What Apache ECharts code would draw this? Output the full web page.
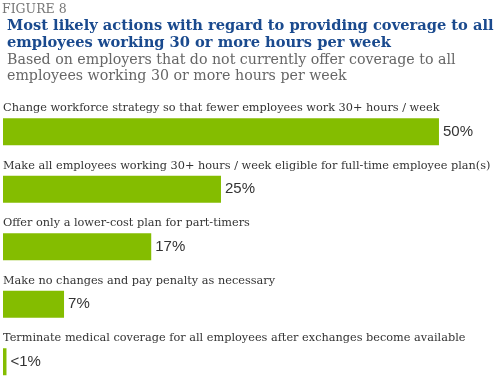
<!DOCTYPE html>
<html><head><meta charset="utf-8">
<script src="https://cdn.jsdelivr.net/npm/echarts@6/dist/echarts.min.js"></script>
<style>html,body{margin:0;padding:0;background:#fff}#c{width:500px;height:383px}</style>
</head><body><div id="c"></div>
<script>
const figureLabel = "FIGURE 8";
const titleText = "Most likely actions with regard to providing coverage to all\nemployees working 30 or more hours per week";
const subtitleText = "Based on employers that do not currently offer coverage to all\nemployees working 30 or more hours per week";
const categories = [
  "Change workforce strategy so that fewer employees work 30+ hours / week",
  "Make all employees working 30+ hours / week eligible for full-time employee plan(s)",
  "Offer only a lower-cost plan for part-timers",
  "Make no changes and pay penalty as necessary",
  "Terminate medical coverage for all employees after exchanges become available"
];
const values = [50, 25, 17, 7, 0.4];
const valueLabels = ["50%", "25%", "17%", "7%", "<1%"];

const chart = echarts.init(document.getElementById('c'), null, {renderer: 'canvas'});
const serif = "'DejaVu Serif', serif";
chart.setOption({
  animation: false,
  title: [
    {text: figureLabel, left: 2, top: 3, padding: 0, textStyle: {fontFamily: serif, fontSize: 12.5, fontWeight: 'normal', color: '#777'}},
    {text: titleText, left: 2, top: 13, padding: 5, textStyle: {fontFamily: serif, fontSize: 14.65, fontWeight: 'bold', color: '#1a4a8e', lineHeight: 17}},
    {text: subtitleText, left: 2, top: 47, padding: 5, textStyle: {fontFamily: serif, fontSize: 14.2, fontWeight: 'normal', color: '#666', lineHeight: 16}}
  ],
  grid: {left: 3, top: 103, width: 497, height: 287.5, containLabel: false, outerBoundsMode: 'none'},
  xAxis: {type: 'value', min: 0, max: 57, show: false},
  yAxis: {
    type: 'category', data: categories, inverse: true,
    axisLine: {show: false}, axisTick: {show: false},
    axisLabel: {
      inside: true, verticalAlign: 'bottom', align: 'left', margin: 0,
      padding: [0, 0, 18, 0],
      fontFamily: serif, fontSize: 11.3, color: '#333'
    },
    z: 10
  },
  series: [{
    type: 'bar', data: values, barWidth: 27,
    itemStyle: {color: '#84bd00'},
    label: {
      show: true, position: 'right', distance: 4,
      formatter: p => valueLabels[p.dataIndex],
      fontFamily: "'Liberation Sans', Arial, sans-serif", fontSize: 15, color: '#333'
    }
  }]
});
</script></body></html>
